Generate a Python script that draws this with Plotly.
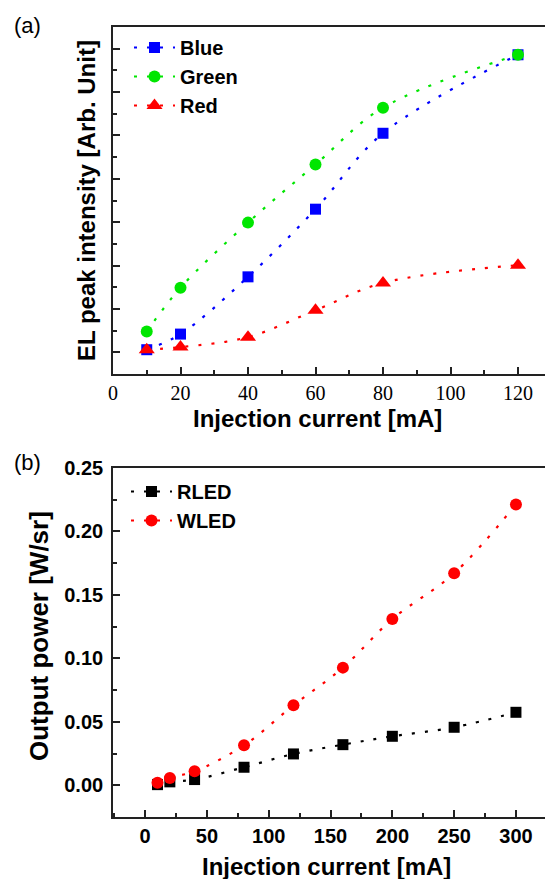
import plotly.graph_objects as go

# ---- Panel (a) data ----
current_a = [10, 20, 40, 60, 80, 120]
blue = [0.06, 0.42, 1.74, 3.30, 5.05, 6.86]
green = [0.48, 1.49, 2.99, 4.33, 5.64, 6.86]
red = [0.06, 0.12, 0.35, 0.97, 1.60, 2.01]

# ---- Panel (b) data ----
current_b = [10, 20, 40, 80, 120, 160, 200, 250, 300]
rled = [0.0005, 0.0027, 0.0045, 0.0142, 0.0247, 0.0320, 0.0386, 0.0457, 0.0575]
wled = [0.0019, 0.0058, 0.0110, 0.0315, 0.0630, 0.0927, 0.1310, 0.1670, 0.2213]

W, H = 545, 879
SANS = "Liberation Sans"
SERIF = "Liberation Serif"
AX = "#222222"
DASH = "3px,10px"

fig = go.Figure()

def add(x, y, name, color, symbol, size, xa, ya, legend):
    fig.add_trace(go.Scatter(
        x=x, y=y, name=name, mode="lines+markers",
        line=dict(color=color, width=2.2, dash=DASH, shape="spline", smoothing=1),
        marker=dict(color=color, symbol=symbol, size=size),
        xaxis=xa, yaxis=ya, legend=legend))

add(current_a, blue, "Blue", "#0000ff", "square", 11, "x", "y", "legend")
add(current_a, green, "Green", "#00e600", "circle", 12, "x", "y", "legend")
add(current_a, red, "Red", "#ff0000", "triangle-up", 14, "x", "y", "legend")
add(current_b, rled, "RLED", "#000000", "square", 11, "x2", "y2", "legend2")
add(current_b, wled, "WLED", "#ff0000", "circle", 12, "x2", "y2", "legend2")

xdom = [113 / W, 1.0]
ydom_a = [1 - 374 / H, 1 - 27 / H]
ydom_b = [1 - 817 / H, 1 - 468 / H]

common = dict(showline=True, linecolor=AX, linewidth=1.6, ticks="inside",
              ticklen=7, tickwidth=1.5, tickcolor=AX, showgrid=False,
              zeroline=False, automargin=False)

fig.update_layout(
    width=W, height=H,
    margin=dict(l=0, r=0, t=0, b=0),
    paper_bgcolor="white", plot_bgcolor="white",
    showlegend=True,
    xaxis=dict(domain=xdom, range=[0, 128], anchor="y", mirror=True,
               tick0=0, dtick=20,
               minor=dict(dtick=10, ticks="inside", ticklen=4, tickwidth=1.5, tickcolor=AX),
               tickfont=dict(family=SERIF, size=20, color="black"), **common),
    yaxis=dict(domain=ydom_a, range=[-0.5, 7.5], anchor="x",
               tick0=0, dtick=1, showticklabels=False,
               minor=dict(dtick=0.5, ticks="inside", ticklen=4, tickwidth=1.5, tickcolor=AX),
               **common),
    xaxis2=dict(domain=xdom, range=[-26, 323.5], anchor="y2", mirror=True,
                tick0=0, dtick=50,
                minor=dict(dtick=25, ticks="inside", ticklen=4, tickwidth=1.5, tickcolor=AX),
                tickfont=dict(family=SANS, size=20, color="black", weight="bold"), **common),
    yaxis2=dict(domain=ydom_b, range=[-0.025, 0.25], anchor="x2",
                tick0=0, dtick=0.05, tickformat=".2f", ticklabelstandoff=4,
                minor=dict(dtick=0.025, ticks="inside", ticklen=4, tickwidth=1.5, tickcolor=AX),
                tickfont=dict(family=SANS, size=20, color="black", weight="bold"), **common),
    legend=dict(x=129 / W, y=1 - 28 / H, xanchor="left", yanchor="top",
                bgcolor="rgba(0,0,0,0)", itemwidth=41,
                font=dict(family=SANS, size=20, color="black", weight="bold")),
    legend2=dict(x=126 / W, y=1 - 472 / H, xanchor="left", yanchor="top",
                 bgcolor="rgba(0,0,0,0)", itemwidth=41,
                 font=dict(family=SANS, size=20, color="black", weight="bold")),
)

def ann(text, px, py, size, weight="bold", angle=0):
    fig.add_annotation(text=text, x=px / W, y=1 - py / H, xref="paper", yref="paper",
                       showarrow=False, xanchor="center", yanchor="middle",
                       textangle=angle,
                       font=dict(family=SANS, size=size, color="black", weight=weight))

ann("(a)", 27, 26, 22, weight="normal")
ann("(b)", 27, 462, 22, weight="normal")
ann("Injection current [mA]", 317, 418, 24)
ann("Injection current [mA]", 326, 866, 24)
ann("EL peak intensity [Arb. Unit]", 87, 201, 24, angle=-90)
ann("Output power [W/sr]", 39, 636, 26, angle=-90)

fig.write_html("out.html",
               config={"displayModeBar": False},
               post_script="document.body.style.margin='0';document.body.style.overflow='hidden';")
